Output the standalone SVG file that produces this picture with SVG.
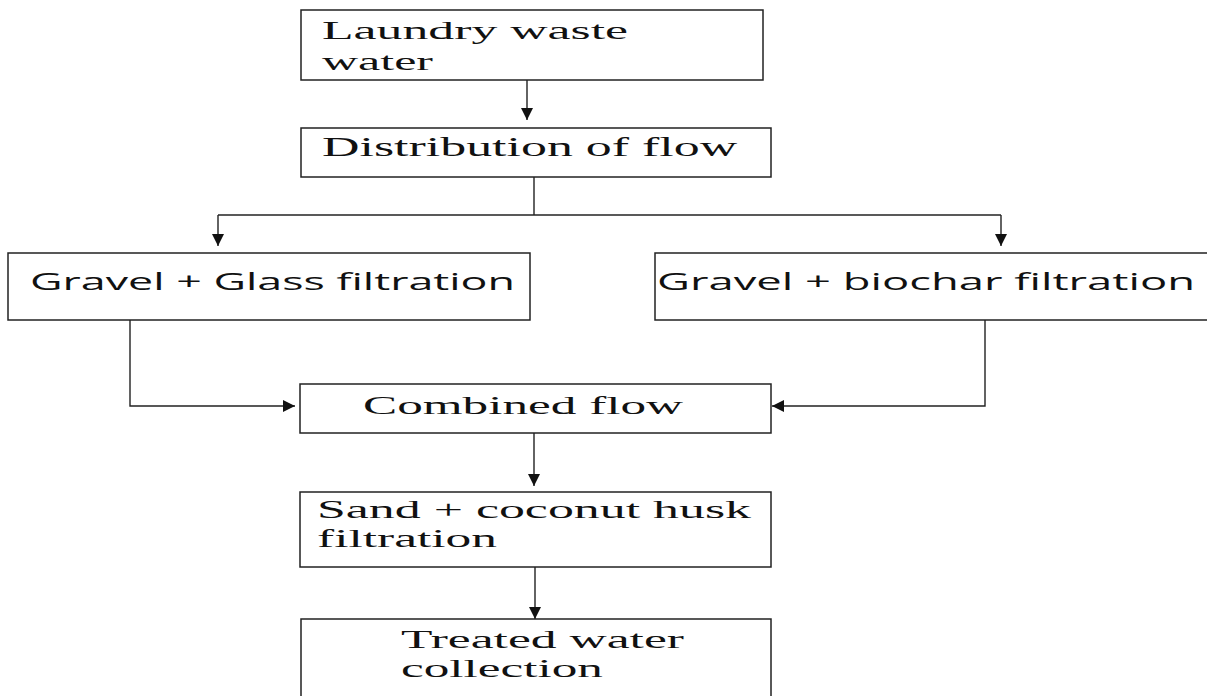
<svg xmlns="http://www.w3.org/2000/svg" width="1207" height="696" viewBox="0 0 1207 696">
<defs>
<marker id="ah" markerUnits="userSpaceOnUse" markerWidth="12" markerHeight="12" viewBox="0 0 10 10" refX="10" refY="5" orient="auto">
<path d="M0,0 L10,5 L0,10 z" fill="#111"/>
</marker>
<style>
.box{fill:#fff;stroke:#222;stroke-width:1.5}
.serif{font-family:"Liberation Serif","Times New Roman",serif;fill:#111;font-size:25px}
.sans{font-family:"Open Sans","Noto Sans","DejaVu Sans",sans-serif;fill:#111;font-size:23px}
.edge{fill:none;stroke:#222;stroke-width:1.4}
</style>
</defs>
<rect width="1207" height="696" fill="#fff"/>
<g id="connectors">
<line class="edge" x1="527" y1="80" x2="527" y2="120" marker-end="url(#ah)"/>
<polyline class="edge" points="534,177 534,215"/>
<polyline class="edge" points="218,215 1001,215"/>
<line class="edge" x1="218" y1="215" x2="218" y2="246" marker-end="url(#ah)"/>
<line class="edge" x1="1001" y1="215" x2="1001" y2="246" marker-end="url(#ah)"/>
<polyline class="edge" points="130,320 130,406 295,406" marker-end="url(#ah)"/>
<polyline class="edge" points="985,320 985,406 772,406" marker-end="url(#ah)"/>
<line class="edge" x1="534" y1="433" x2="534" y2="486" marker-end="url(#ah)"/>
<line class="edge" x1="535" y1="567" x2="535" y2="619" marker-end="url(#ah)"/>
</g>
<g id="node-laundry">
<rect class="box" x="301" y="10" width="462" height="70"/>
<text class="serif" transform="translate(322,39) scale(1.2,1)" textLength="255" lengthAdjust="spacingAndGlyphs">Laundry waste</text>
<text class="serif" transform="translate(322,70) scale(1.2,1)" textLength="92.5" lengthAdjust="spacingAndGlyphs">water</text>
</g>
<g id="node-distribution">
<rect class="box" x="301" y="128" width="470" height="49"/>
<text class="serif" style="font-size:27px" transform="translate(322,156) scale(1.2,1)" textLength="346" lengthAdjust="spacingAndGlyphs">Distribution of flow</text>
</g>
<g id="node-glass">
<rect class="box" x="8" y="253" width="522" height="67"/>
<text class="sans" x="30" y="290" textLength="485" lengthAdjust="spacingAndGlyphs">Gravel + Glass filtration</text>
</g>
<g id="node-biochar">
<rect class="box" x="655" y="253" width="560" height="67"/>
<text class="sans" x="657" y="290" textLength="538" lengthAdjust="spacingAndGlyphs">Gravel + biochar filtration</text>
</g>
<g id="node-combined">
<rect class="box" x="300" y="384" width="471" height="49"/>
<text class="serif" transform="translate(363,414) scale(1.2,1)" textLength="266.7" lengthAdjust="spacingAndGlyphs">Combined flow</text>
</g>
<g id="node-sand">
<rect class="box" x="300" y="492" width="471" height="75"/>
<text class="serif" transform="translate(317,518) scale(1.2,1)" textLength="361.7" lengthAdjust="spacingAndGlyphs">Sand + coconut husk</text>
<text class="serif" transform="translate(317,547) scale(1.2,1)" textLength="150" lengthAdjust="spacingAndGlyphs">filtration</text>
</g>
<g id="node-treated">
<rect class="box" x="301" y="619" width="470" height="90"/>
<text class="serif" transform="translate(401,648) scale(1.2,1)" textLength="235.8" lengthAdjust="spacingAndGlyphs">Treated water</text>
<text class="serif" transform="translate(401,677) scale(1.2,1)" textLength="168.3" lengthAdjust="spacingAndGlyphs">collection</text>
</g>
</svg>
